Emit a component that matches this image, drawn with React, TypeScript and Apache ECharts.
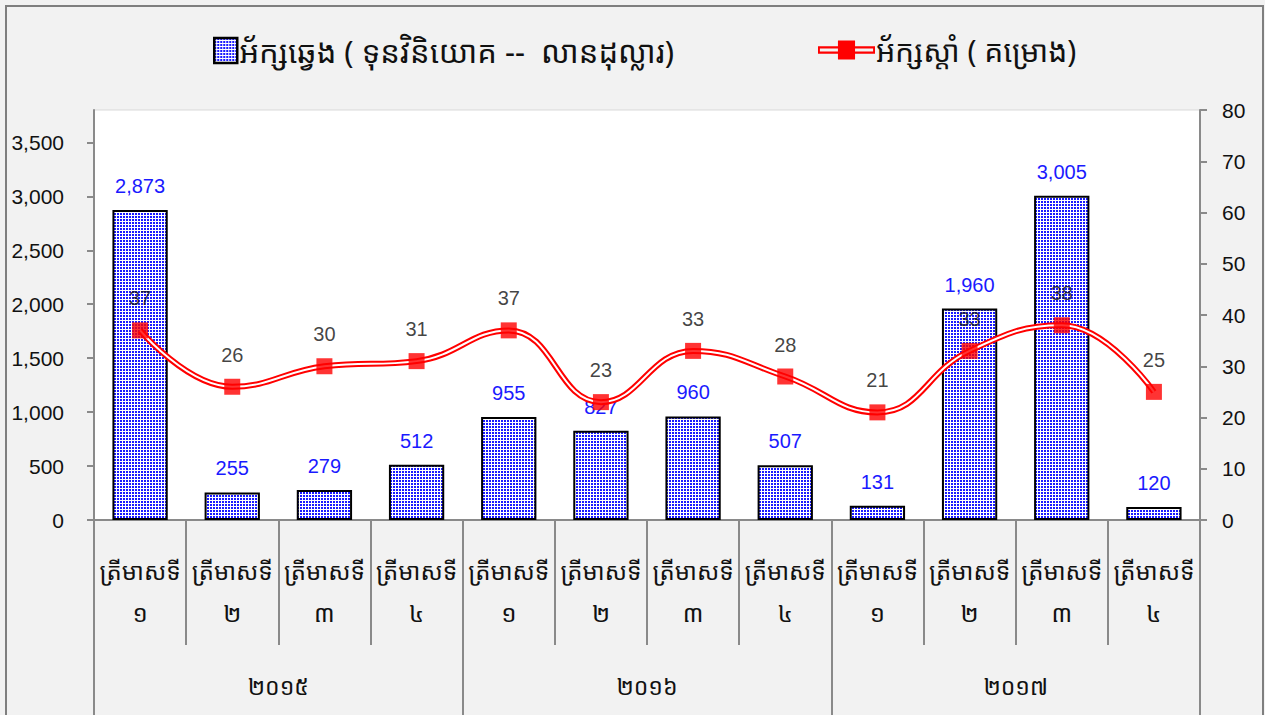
import React, { useEffect, useRef } from "react";
import * as echarts from "echarts";

const quarterLabels = [
  "ត្រីមាសទី\n១", "ត្រីមាសទី\n២", "ត្រីមាសទី\n៣", "ត្រីមាសទី\n៤",
  "ត្រីមាសទី\n១", "ត្រីមាសទី\n២", "ត្រីមាសទី\n៣", "ត្រីមាសទី\n៤",
  "ត្រីមាសទី\n១", "ត្រីមាសទី\n២", "ត្រីមាសទី\n៣", "ត្រីមាសទី\n៤",
];
const years = ["២០១៥", "២០១៦", "២០១៧"];
const capital = [2873, 255, 279, 512, 955, 827, 960, 507, 131, 1960, 3005, 120];
const projects = [37, 26, 30, 31, 37, 23, 33, 28, 21, 33, 38, 25];
const barName = "អ័ក្សឆ្វេង ( ទុនវិនិយោគ --  លានដុល្លារ)";
const lineName = "អ័ក្សស្តាំ ( គម្រោង)";

const NUM_FONT = "'Liberation Sans Narrow', 'Arial Narrow', 'Liberation Sans', Arial, sans-serif";
const KH_FONT = "'Khmer OS', 'Noto Sans Khmer', 'Noto Sans', sans-serif";

function makePattern() {
  const c = document.createElement("canvas");
  c.width = 3;
  c.height = 3;
  const ctx = c.getContext("2d")!;
  ctx.fillStyle = "#ffffff";
  ctx.fillRect(0, 0, 3, 3);
  ctx.fillStyle = "#1a1aff";
  ctx.fillRect(0, 0, 2, 2);
  return c;
}

export default function App() {
  const ref = useRef<HTMLDivElement>(null);
  useEffect(() => {
    if (!ref.current) return;
    const chart = echarts.init(ref.current, undefined, { renderer: "svg" });
    const pat = makePattern();
    const barFill: any = { image: pat, repeat: "repeat", imageWidth: 3, imageHeight: 3 };
    const axisGray = "#8a8a8a";
    const option: any = {
      animation: false,
      backgroundColor: "#f2f2f2",
      graphic: [
        {
          type: "rect",
          shape: { x: 6, y: 6, width: 1257, height: 760 },
          style: { fill: "none", stroke: "#7f7f7f", lineWidth: 2 },
          z: 100,
          silent: true,
        },
      ],
      legend: [
        {
          data: [{ name: barName, icon: "rect", itemStyle: { borderColor: "#000", borderWidth: 2.5 } }],
          left: 208,
          top: 30,
          itemWidth: 23,
          itemHeight: 25,
          itemGap: 4,
          selectedMode: false,
          textStyle: { fontSize: 31, color: "#111", fontFamily: KH_FONT, padding: [0, 0, 0, -3] },
        },
        {
          data: [
            {
              name: lineName,
              icon: "path://M0,6H60V14H0Z M2,8.5V11.5H58V8.5Z M21,0H39V20H21Z",
              itemStyle: { color: "#ff0000" },
            },
          ],
          left: 813,
          top: 30,
          itemWidth: 57,
          itemHeight: 19,
          selectedMode: false,
          textStyle: { fontSize: 30, color: "#111", fontFamily: KH_FONT, padding: [0, 0, 0, -4] },
        },
      ],
      grid: {
        left: 94,
        right: 65,
        top: 110,
        bottom: 195,
        show: true,
        backgroundColor: "#ffffff",
        borderColor: "#d9d9d9",
        borderWidth: 1,
      },
      xAxis: [
        {
          type: "category",
          data: quarterLabels,
          position: "bottom",
          axisLine: { show: true, lineStyle: { color: axisGray, width: 2 } },
          axisTick: { show: true, length: 125, interval: 0, lineStyle: { color: axisGray, width: 2 } },
          axisLabel: {
            interval: 0,
            margin: 29,
            fontSize: 24,
            lineHeight: 42,
            color: "#111",
            fontFamily: KH_FONT,
          },
        },
        {
          type: "category",
          data: years,
          position: "bottom",
          axisLine: { show: false },
          axisTick: { show: true, length: 220, interval: 0, lineStyle: { color: axisGray, width: 2 } },
          axisLabel: {
            interval: 0,
            margin: 154,
            fontSize: 23,
            color: "#111",
            fontFamily: KH_FONT,
          },
        },
      ],
      yAxis: [
        {
          type: "value",
          min: 0,
          max: 3800,
          interval: 500,
          position: "left",
          splitLine: { show: false },
          axisLine: { show: true, lineStyle: { color: axisGray, width: 2 } },
          axisTick: { show: true, length: 7, lineStyle: { color: axisGray, width: 2 } },
          axisLabel: {
            showMaxLabel: false,
            margin: 30,
            fontSize: 21,
            color: "#111",
            fontFamily: NUM_FONT,
            formatter: (v: number) => v.toLocaleString("en-US"),
          },
        },
        {
          type: "value",
          min: 0,
          max: 80,
          interval: 10,
          position: "right",
          splitLine: { show: false },
          axisLine: { show: true, lineStyle: { color: axisGray, width: 2 } },
          axisTick: { show: true, length: 7, lineStyle: { color: axisGray, width: 2 } },
          axisLabel: {
            margin: 22,
            fontSize: 21,
            color: "#111",
            fontFamily: NUM_FONT,
          },
        },
      ],
      series: [
        {
          name: barName,
          type: "bar",
          xAxisIndex: 0,
          yAxisIndex: 0,
          data: capital,
          barWidth: "60%",
          itemStyle: { color: barFill, borderColor: "#000", borderWidth: 2 },
          label: {
            show: true,
            position: "top",
            distance: 14,
            color: "#1a1aff",
            fontSize: 20,
            fontFamily: NUM_FONT,
            formatter: (p: any) => Number(p.value).toLocaleString("en-US"),
          },
          z: 2,
        },
        {
          name: lineName,
          type: "line",
          xAxisIndex: 0,
          yAxisIndex: 1,
          data: projects,
          smooth: 0.45,
          symbol: "none",
          color: "#ff0000",
          lineStyle: { color: "#ff0000", width: 6 },
          z: 3,
        },
        {
          name: "inner",
          type: "line",
          xAxisIndex: 0,
          yAxisIndex: 1,
          data: projects,
          smooth: 0.45,
          symbol: "none",
          lineStyle: { color: "#ffffff", width: 2 },
          z: 4,
        },
        {
          name: "markers",
          type: "scatter",
          xAxisIndex: 0,
          yAxisIndex: 1,
          data: projects,
          symbol: "rect",
          symbolSize: 16,
          itemStyle: { color: "#ff0000" },
          label: {
            show: true,
            position: "top",
            distance: 14,
            color: "#111",
            fontSize: 20,
            fontFamily: NUM_FONT,
          },
          z: 5,
        },
      ],
    };
    chart.setOption(option);
    return () => chart.dispose();
  }, []);
  return (
    <div
      ref={ref}
      style={{ position: "absolute", left: 0, top: 0, width: 1265, height: 715 }}
    />
  );
}
